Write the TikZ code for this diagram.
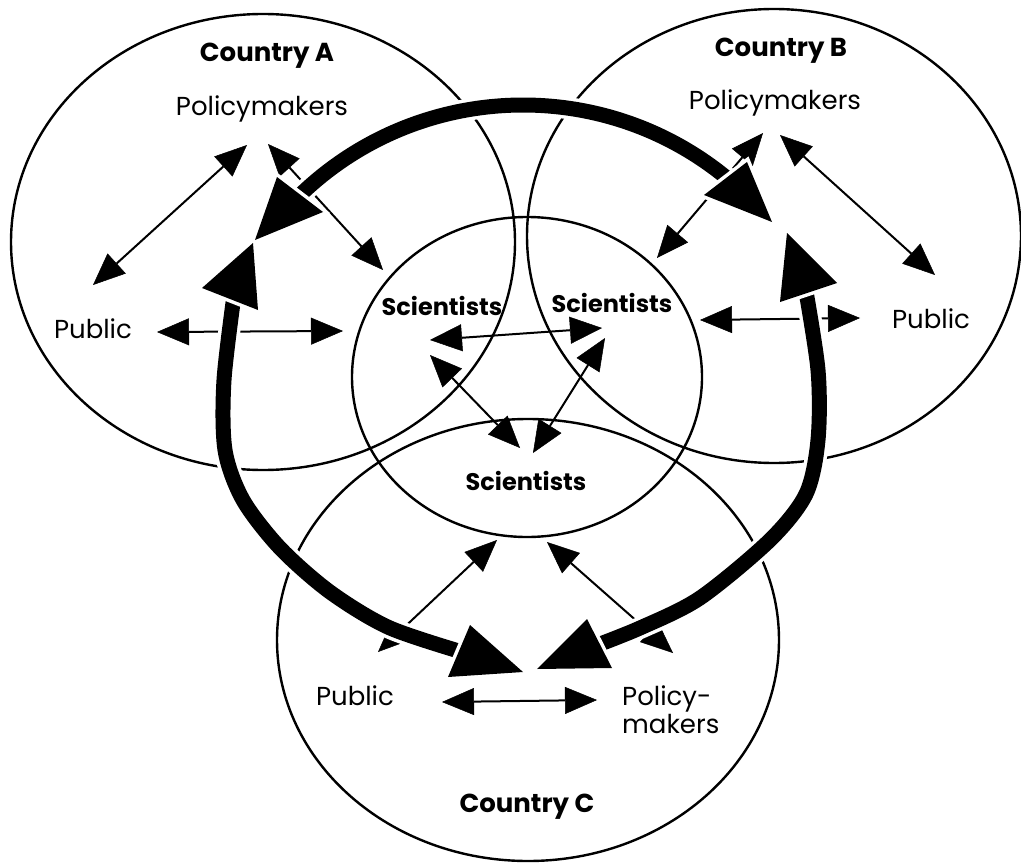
\documentclass[tikz,border=0pt]{standalone}
\usepackage{fontspec}
\setmainfont{Poppins}
\usetikzlibrary{arrows.meta}
\tikzset{
  smalltip/.tip={Triangle[length=32pt,width=27pt,line width=0.5pt]},
  country/.style={font=\fontsize{26}{30}\selectfont\bfseries, anchor=base, inner sep=0pt},
  actor/.style={font=\fontsize{26}{30}\selectfont, anchor=base, inner sep=0pt},
  sci/.style={font=\fontsize{24}{28}\selectfont\bfseries, anchor=base, inner sep=0pt},
  region/.style={draw, line width=2.4pt},
  link/.style={line width=2pt, smalltip-smalltip},
  flow/.style={line width=15pt, black},
  halo/.style={line width=22pt, white},
  headhalo/.style={fill=white, draw=white, line width=7pt, line join=miter},
  head/.style={fill=black},
}
\begin{document}
\begin{tikzpicture}[x=1pt,y=-1pt]
\useasboundingbox (0,0) rectangle (1021,867);
\fill[white] (0,0) rectangle (1021,867);

% regions
\draw[region] (263,242) ellipse [x radius=252pt, y radius=228pt];
\draw[region] (774,236) ellipse [x radius=247pt, y radius=227pt];
\draw[region] (528,640) ellipse [x radius=251pt, y radius=221pt];
\draw[region] (527,377) ellipse [x radius=175pt, y radius=160pt];

% labels
\node[country] (cA) at (267,62) {Country A};
\node[actor] (pA) at (262,115) {Policymakers};
\node[actor] (uA) at (93,338) {Public};
\node[sci] (sA) at (442,315) {Scientists};

\node[country] (cB) at (781,57) {Country B};
\node[actor] (pB) at (775,110) {Policymakers};
\node[actor] (uB) at (931,328) {Public};
\node[sci] (sB) at (612,312) {Scientists};

\node[sci] (sC) at (526,490) {Scientists};
\node[actor] (uC) at (355,705) {Public};
\node[font=\fontsize{26}{28}\selectfont, align=left, anchor=north west, inner sep=0pt] (pC) at (622,686) {Policy-\\makers};
\node[country] (cC) at (527,812) {Country C};

% connector ends
\coordinate (pA-u) at (247,145);  \coordinate (uA-p) at (93,285);
\coordinate (pA-s) at (268,144);  \coordinate (sA-p) at (383,270);
\coordinate (uA-s) at (157,332);  \coordinate (sA-u) at (343,331);
\coordinate (sA-b) at (430,340);  \coordinate (sB-a) at (602,328);
\coordinate (sA-c) at (430,355);  \coordinate (sC-a) at (520,448);
\coordinate (sB-c) at (605,338);  \coordinate (sC-b) at (533,453);
\coordinate (pB-s) at (763,133);  \coordinate (sB-p) at (657,258);
\coordinate (pB-u) at (780,135);  \coordinate (uB-p) at (935,275);
\coordinate (sB-u) at (700,320);  \coordinate (uB-s) at (860,318);
\coordinate (uC-s) at (378,652);  \coordinate (sC-u) at (497,540);
\coordinate (pC-s) at (673,653);  \coordinate (sC-p) at (547,542);
\coordinate (uC-p) at (442,702);  \coordinate (pC-u) at (597,700);

% thin two-way links
\draw[link] (pA-u) -- (uA-p);
\draw[link] (pA-s) -- (sA-p);
\draw[link] (uA-s) -- (sA-u);
\draw[link] (sA-b) -- (sB-a);
\draw[link] (sA-c) -- (sC-a);
\draw[link] (sB-c) -- (sC-b);
\draw[link] (pB-s) -- (sB-p);
\draw[link] (pB-u) -- (uB-p);
\draw[link] (sB-u) -- (uB-s);
\draw[link] (uC-s) -- (sC-u);
\draw[link] (pC-s) -- (sC-p);
\draw[link] (uC-p) -- (pC-u);

% thick international flows
\coordinate (topc) at (523,426);
\def\leftflow{(235,288) (224,380) (225,450) (243,500) (280,548) (330,592) (390,628) (472,655)}
\def\rightflow{(804,280) (818,370) (818,440) (806,494) (770,540) (700,598) (640,628) (587,649)}
\def\topflow{([shift={(136:321pt)}]topc) arc[start angle=136, end angle=49, radius=321pt]}
\draw[halo] \topflow;
\draw[halo] plot[smooth] coordinates {\leftflow};
\draw[halo] plot[smooth] coordinates {\rightflow};
\draw[flow] \topflow;
\draw[flow] plot[smooth] coordinates {\leftflow};
\draw[flow] plot[smooth] coordinates {\rightflow};

% arrowheads of the flows
\def\headA{(277,177) -- (323,212) -- (255,240) -- cycle}
\def\headAA{(202,288) -- (258,310) -- (253,243) -- cycle}
\def\headB{(704,195) -- (747,162) -- (772,222) -- cycle}
\def\headBB{(837,283) -- (780,302) -- (787,233) -- cycle}
\def\headC{(470,625) -- (523,672) -- (448,677) -- cycle}
\def\headCC{(587,619) -- (537,669) -- (612,668) -- cycle}
\foreach \h in {\headA,\headAA,\headB,\headBB,\headC,\headCC} {\path[headhalo] \h;}
\foreach \h in {\headA,\headAA,\headB,\headBB,\headC,\headCC} {\path[head] \h;}
\end{tikzpicture}
\end{document}
